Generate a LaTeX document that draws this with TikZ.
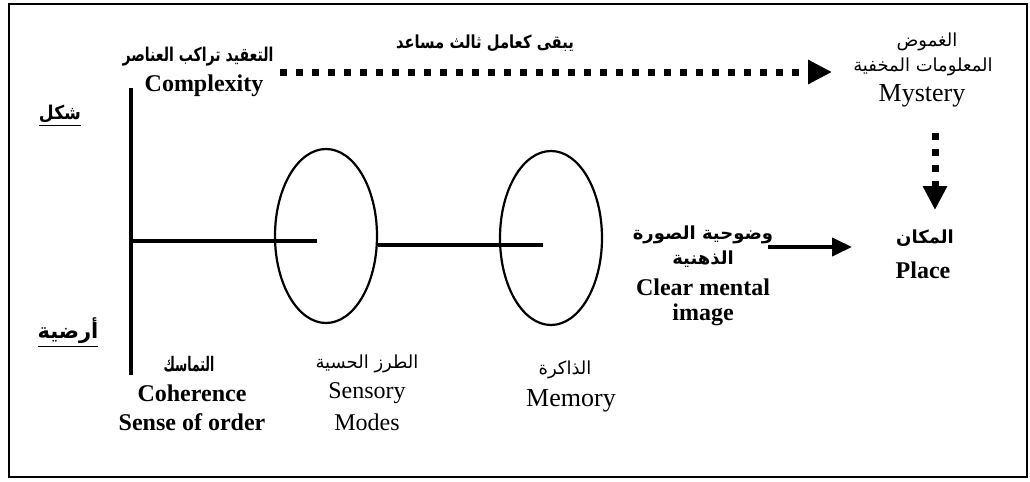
\documentclass[tikz,border=0pt]{standalone}
\usepackage{fontspec}
\setmainfont{Liberation Serif}
\newfontfamily\arabicfont[Script=Arabic]{DejaVu Sans}
\TeXXeTstate=1
\usepackage{graphicx}
\usepackage{tikz}
\usetikzlibrary{arrows.meta}
\usetikzlibrary{shapes.geometric}

\newcommand{\artext}[1]{{\arabicfont\beginR #1\endR}}

\begin{document}
\begin{tikzpicture}[x=0.5pt,y=-0.5pt,
			lbl/.style={inner sep=0pt, font=\fontsize{12}{14}\selectfont},
			lblb/.style={inner sep=0pt, font=\fontsize{12}{14}\selectfont\bfseries},
			arlbl/.style={inner sep=0pt, font=\fontsize{9}{11}\selectfont},
			arlblb/.style={inner sep=0pt, font=\fontsize{9}{11}\selectfont\bfseries},
			loop/.style={draw, ellipse, line width=1.1pt, minimum width=51pt, minimum height=87pt, inner sep=0pt},
			bar/.style={line width=2pt},
			dots/.style={line width=3.5pt, dash pattern=on 3.5pt off 4.5pt, -{Triangle[length=12pt,width=11.5pt]}}]
			\useasboundingbox (0,0) rectangle (1030,482);
			\draw[line width=1pt] (9,4) rectangle (1027,477);

			\node[arlblb, font=\fontsize{9.5}{11}\selectfont\bfseries] (complexAr) at (198,57) {\scalebox{0.74}[1]{\artext{التعقيد تراكب العناصر}}};
			\node[lblb] (complexity) at (204,86) {Complexity};
			\node[arlblb] (third) at (485,43) {\scalebox{0.82}[1]{\artext{يبقى كعامل ثالث مساعد}}};
			\node[arlblb, font=\fontsize{9.5}{11}\selectfont\bfseries] (shakl) at (60,116) {\underline{\scalebox{0.9}[1]{\artext{شكل}}}};
			\node[arlblb, font=\fontsize{10.5}{12}\selectfont\bfseries] (ardiya) at (68,333) {\underline{\artext{أرضية}}};

			\node[arlbl] (mysAr1) at (927,42) {\artext{الغموض}};
			\node[arlbl] (mysAr2) at (923,67) {\artext{المعلومات المخفية}};
			\node[lbl, font=\fontsize{13}{15}\selectfont] (mystery) at (922,96) {Mystery};

			\node[arlblb] (placeAr) at (925,238) {\artext{المكان}};
			\node[lblb] (place) at (923,270) {Place};

			\node[arlblb] (clearAr1) at (703,235) {\artext{وضوحية الصورة}};
			\node[arlblb] (clearAr2) at (703,259) {\artext{الذهنية}};
			\node[lblb] (clear) at (703,287) {Clear mental};
			\node[lblb] (image) at (703,315) {image};

			\node[loop] (sens) at (326,236) {};
			\node[loop] (mem) at (551,238) {};

			\node[arlblb, font=\fontsize{10}{12}\selectfont\bfseries] (cohAr) at (189,364) {\scalebox{0.62}[1]{\artext{التماسك}}};
			\node[lblb] (coherence) at (192,393) {Coherence};
			\node[lblb] (order) at (192,422) {Sense of order};
			\node[arlbl] (sensAr) at (367,364) {\artext{الطرز الحسية}};
			\node[lbl] (sensory) at (367,393) {Sensory};
			\node[lbl] (modes) at (367,422) {Modes};
			\node[arlbl] (memAr) at (565,370) {\artext{الذاكرة}};
			\node[lbl, font=\fontsize{13}{15}\selectfont] (memory) at (571,401) {Memory};

			\coordinate (axtop) at (131,88);
			\coordinate (axbot) at (131,375);
			\coordinate (axmid) at (131,241);
			\coordinate (senin) at (317,241);
			\coordinate (memin) at (543,245);
			\coordinate (dotstart) at (280,72);
			\coordinate (dotend) at (832,72);
			\coordinate (downstart) at (935,133);
			\coordinate (downend) at (935,210);
			\coordinate (imgstart) at (768,247);
			\coordinate (imgend) at (852,247);

			\draw[line width=1.8pt] (axtop) -- (axbot);
			\draw[bar] (axmid) -- (senin);
			\draw[bar] (sens.east |- memin) -- (memin);
			\draw[dots] (dotstart) -- (dotend);
			\draw[dots] (downstart) -- (downend);
			\draw[bar, -{Triangle[length=10pt,width=9pt]}] (imgstart) -- (imgend);
		\end{tikzpicture}
\end{document}
